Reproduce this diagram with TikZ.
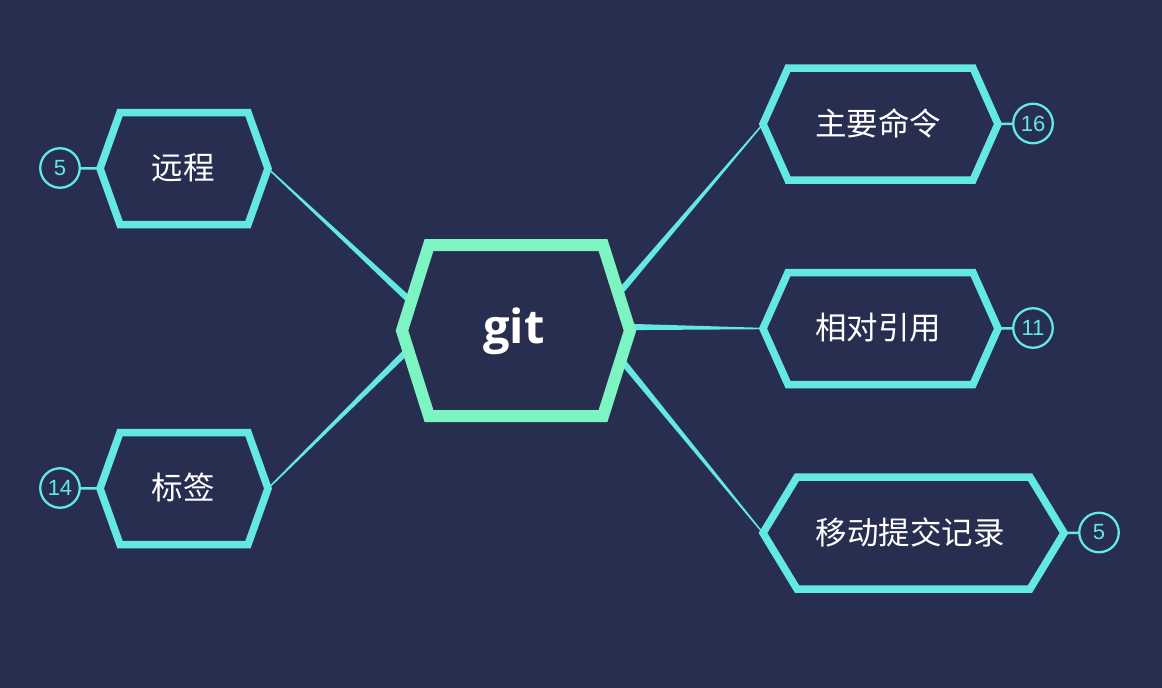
\documentclass[tikz,border=0pt]{standalone}
\usepackage{fontspec}
\usetikzlibrary{calc}
\newfontfamily\cjk{Noto Sans CJK SC}
\newfontfamily\gitfont{Open Sans}
\newfontfamily\numfont{Liberation Sans}
\definecolor{bg}{RGB}{40,46,80}
\definecolor{cy}{RGB}{99,232,228}
\definecolor{gr}{RGB}{125,245,195}
% #1 center name, #2 half width (to tip), #3 inset, #4 half height, #5 style
\newcommand\hexshape[5]{%
  \draw[#5] ($(#1)+(-#2,0)$) coordinate (#1-L)
    -- ($(#1)+(-#2+#3,-#4)$) -- ($(#1)+(#2-#3,-#4)$)
    -- ($(#1)+(#2,0)$) coordinate (#1-R)
    -- ($(#1)+(#2-#3,#4)$) -- ($(#1)+(-#2+#3,#4)$) -- cycle;}
% tapered connector from #1 (thin end) to #2 (thick end)
\newcommand\taper[2]{%
  \path ($(#2)!-6pt!(#1)$) coordinate (tE);
  \fill[cy] ($(#1)!0.7pt!90:(tE)$) -- ($(tE)!3.2pt!-90:(#1)$)
    -- ($(tE)!3.2pt!90:(#1)$) -- ($(#1)!0.7pt!-90:(tE)$) -- cycle;}
\tikzset{
  branchhex/.style={draw=cy, line width=7.5pt, line join=miter},
  centralhex/.style={draw=gr, fill=bg, line width=12pt, line join=miter},
  label/.style={text=white, font=\cjk\fontsize{31.5}{36}\selectfont, inner sep=0pt},
  numc/.style={circle, draw=cy, fill=bg, line width=2.3pt, minimum size=39.5pt,
    inner sep=0pt, text=cy, font=\numfont\fontsize{22}{22}\selectfont},
  numlink/.style={draw=cy, line width=2.5pt}
}
\begin{document}
\begin{tikzpicture}[x=1pt,y=-1pt]
\fill[bg] (0,0) rectangle (1162,688);
\useasboundingbox (0,0) rectangle (1162,688);

% centres
\coordinate (rem) at (184,168.5);
\coordinate (tag) at (184,488.5);
\coordinate (cmd) at (880.5,124);
\coordinate (rel) at (880.5,328.5);
\coordinate (mov) at (913.5,533);
\coordinate (git) at (516,330.5);

% attachment points on the central shape
\coordinate (g1) at (405,296);
\coordinate (g2) at (403,355);
\coordinate (g3) at (626,285);
\coordinate (g4) at (632,327);
\coordinate (g5) at (627,367);

% branch shapes
\hexshape{rem}{84}{20}{56}{branchhex}
\hexshape{tag}{84}{20}{56}{branchhex}
\hexshape{cmd}{117.5}{25}{56}{branchhex}
\hexshape{rel}{117.5}{25}{56}{branchhex}
\hexshape{mov}{150.5}{34}{56}{branchhex}

% connectors
\taper{rem-R}{g1}
\taper{tag-R}{g2}
\taper{cmd-L}{g3}
\taper{rel-L}{g4}
\taper{mov-L}{g5}

% central shape
\hexshape{git}{114}{27}{85.5}{centralhex}
\node[text=white, inner sep=0pt, font=\gitfont\bfseries\fontsize{47}{47}\selectfont] (gitt) at (514,331) {git};

% labels
\node[label] (remt) at (183,167.5) {远程};
\node[label] (tagt) at (183,487.5) {标签};
\node[label] (cmdt) at (878,123) {主要命令};
\node[label] (relt) at (878,327.5) {相对引用};
\node[label] (movt) at (910,532) {移动提交记录};

% counters
\node[numc] (remc) at (60,168) {5};
\node[numc] (tagc) at (60,488) {14};
\node[numc] (cmdc) at (1033,123.5) {16};
\node[numc] (relc) at (1033,328) {11};
\node[numc] (movc) at (1099,532.5) {5};
\draw[numlink] (remc) -- (rem-L);
\draw[numlink] (tagc) -- (tag-L);
\draw[numlink] (cmdc) -- (cmd-R);
\draw[numlink] (relc) -- (rel-R);
\draw[numlink] (movc) -- (mov-R);
\end{tikzpicture}
\end{document}
